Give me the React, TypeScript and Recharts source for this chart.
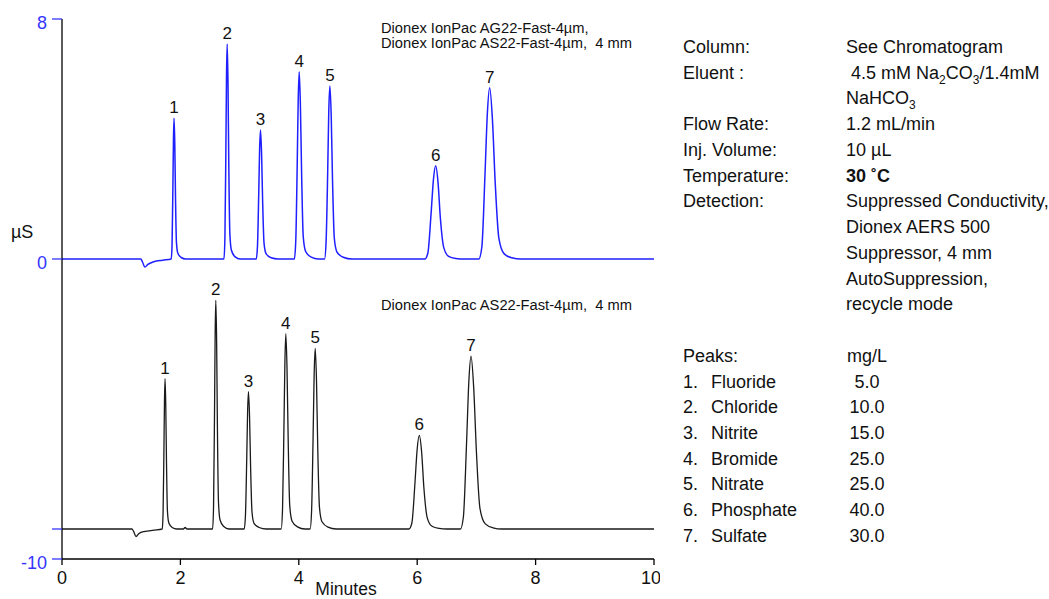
import { LineChart, Line, XAxis, YAxis, ReferenceDot } from "recharts";

const FONT = "Arial, 'Liberation Sans', Helvetica, sans-serif";
const BLUE = "#1f1fff";
const TICK_BLUE = "#3535ff";
const INK = "#111";

const blueTrace: [number, number][] = [
  [0, 0], [1.33, 0], [1.36, -0.1], [1.4, -0.27], [1.45, -0.18], [1.55, -0.09], [1.7, -0.04], [1.845, 0],
  [1.859, 0.47], [1.873, 2.35], [1.883, 4.0], [1.893, 4.69], [1.905, 3.85], [1.917, 2.1], [1.933, 0.56], [1.957, 0.19], [2.013, 0.05], [2.09, 0],
  [2.736, 0],
  [2.752, 0.72], [2.768, 3.59], [2.779, 6.1], [2.79, 7.17], [2.804, 5.88], [2.817, 3.23], [2.835, 0.86], [2.862, 0.29], [2.925, 0.07], [3.01, 0],
  [3.281, 0],
  [3.302, 0.43], [3.323, 2.15], [3.338, 3.66], [3.353, 4.3], [3.371, 3.53], [3.389, 1.94], [3.413, 0.52], [3.449, 0.17], [3.533, 0.04], [3.65, 0],
  [3.925, 0],
  [3.949, 0.62], [3.973, 3.12], [3.99, 5.3], [4.007, 6.24], [4.027, 5.12], [4.048, 2.81], [4.075, 0.75], [4.116, 0.25], [4.211, 0.06], [4.33, 0],
  [4.435, 0],
  [4.461, 0.58], [4.488, 2.89], [4.506, 4.9], [4.525, 5.77], [4.548, 4.73], [4.57, 2.6], [4.6, 0.69], [4.645, 0.23], [4.75, 0.06], [4.9, 0],
  [6.13, 0],
  [6.18, 0.2], [6.236, 1.56], [6.274, 2.64], [6.311, 3.11], [6.352, 2.55], [6.39, 1.4], [6.45, 0.37], [6.53, 0.09], [6.65, 0.02], [6.8, 0],
  [7.04, 0],
  [7.092, 0.4], [7.146, 2.86], [7.185, 4.85], [7.224, 5.71], [7.27, 4.68], [7.317, 2.57], [7.38, 0.69], [7.47, 0.17], [7.6, 0.04], [7.75, 0],
  [10, 0],
];

// lower (column only) trace, drawn offset at -9 µS
const blackTrace: [number, number][] = [
  [0, -9], [1.18, -9], [1.21, -9.08], [1.25, -9.25], [1.3, -9.15], [1.4, -9.08], [1.55, -9.04], [1.693, -9],
  [1.707, -8.5], [1.721, -6.5], [1.731, -4.74], [1.741, -3.99], [1.753, -4.89], [1.765, -6.75], [1.781, -8.4], [1.805, -8.8], [1.861, -8.95], [1.94, -9],
  [2.05, -9], [2.08, -8.95], [2.11, -9], [2.544, -9],
  [2.56, -8.24], [2.576, -5.19], [2.587, -2.52], [2.598, -1.38], [2.612, -2.75], [2.625, -5.57], [2.643, -8.09], [2.67, -8.7], [2.733, -8.92], [2.82, -9],
  [3.078, -9],
  [3.099, -8.54], [3.12, -6.71], [3.135, -5.11], [3.15, -4.42], [3.168, -5.24], [3.186, -6.94], [3.21, -8.45], [3.246, -8.82], [3.33, -8.95], [3.45, -9],
  [3.702, -9],
  [3.725, -8.35], [3.748, -5.75], [3.765, -3.47], [3.781, -2.49], [3.801, -3.66], [3.821, -6.07], [3.847, -8.22], [3.887, -8.74], [3.979, -8.93], [4.1, -9],
  [4.191, -9],
  [4.216, -8.4], [4.241, -5.99], [4.259, -3.88], [4.277, -2.98], [4.299, -4.06], [4.32, -6.29], [4.349, -8.28], [4.392, -8.76], [4.493, -8.94], [4.63, -9],
  [5.86, -9],
  [5.91, -8.8], [5.963, -7.44], [5.999, -6.35], [6.035, -5.88], [6.075, -6.44], [6.112, -7.6], [6.17, -8.63], [6.25, -8.91], [6.37, -8.98], [6.5, -9],
  [6.73, -9],
  [6.78, -8.6], [6.834, -6.12], [6.872, -4.1], [6.909, -3.24], [6.954, -4.28], [7.0, -6.41], [7.06, -8.31], [7.15, -8.83], [7.28, -8.96], [7.43, -9],
  [10, -9],
];

const peakIds = ["1", "2", "3", "4", "5", "6", "7"];
const bluePeakTimes = [1.893, 2.79, 3.353, 4.007, 4.525, 6.311, 7.224];
const bluePeakHeights = [4.69, 7.17, 4.3, 6.24, 5.77, 3.11, 5.71];
const blackPeakTimes = [1.741, 2.598, 3.15, 3.781, 4.277, 6.035, 6.909];
const blackPeakHeights = [-3.99, -1.38, -4.42, -2.49, -2.98, -5.88, -3.24];

const xTicks = [0, 2, 4, 6, 8, 10];
const yTicks = [-10, -9, 0, 8];
const yTickLabels: Record<number, string> = { 8: "8", 0: "0", [-10]: "-10" };

const upperColumns = ["Dionex IonPac AG22-Fast-4µm,", "Dionex IonPac AS22-Fast-4µm,  4 mm"];
const lowerColumns = ["Dionex IonPac AS22-Fast-4µm,  4 mm"];

const conditionLabels = ["Column:", "Eluent :", "", "Flow Rate:", "Inj. Volume:", "Temperature:", "Detection:", "", "", "", ""];
const conditionValues = [
  "See Chromatogram",
  " 4.5 mM Na_2CO_3/1.4mM",
  "NaHCO_3",
  "1.2 mL/min",
  "10 µL",
  "30 ˚C",
  "Suppressed Conductivity,",
  "Dionex AERS 500",
  "Suppressor, 4 mm",
  "AutoSuppression,",
  "recycle mode",
];
const peakNames = ["Fluoride", "Chloride", "Nitrite", "Bromide", "Nitrate", "Phosphate", "Sulfate"];
const peakConcs = ["5.0", "10.0", "15.0", "25.0", "25.0", "40.0", "30.0"];

const toRows = (pts: [number, number][]) => pts.map(([t, v]) => ({ t, v }));

function chem(s: string) {
  const parts = s.split(/_(\d)/);
  return parts.map((p, i) =>
    i % 2 ? (
      <span key={i} style={{ fontSize: 12, position: "relative", top: 5, lineHeight: 0 }}>{p}</span>
    ) : (
      <span key={i}>{p}</span>
    )
  );
}

function YTick({ x, y, payload }: any) {
  const label = yTickLabels[payload.value];
  if (!label) return <g />;
  return (
    <text x={x} y={y + 4} dy="0.355em" textAnchor="end" fill={TICK_BLUE} fontSize={18} fontFamily={FONT}>
      {label}
    </text>
  );
}

function MinutesLabel({ viewBox }: any) {
  return (
    <text x={viewBox.x + viewBox.width / 2 - 12} y={viewBox.y + 36} textAnchor="middle" fill={INK} fontSize={17.5} fontFamily={FONT}>
      Minutes
    </text>
  );
}

function UnitLabel({ viewBox }: any) {
  return (
    <text x={viewBox.x + 11} y={viewBox.y + 219} fill={INK} fontSize={18} fontFamily={FONT}>
      µS
    </text>
  );
}

const ROW = 25.74;

export default function App() {
  return (
    <div style={{ position: "absolute", left: 0, top: 0, width: 1049, height: 599, background: "#fff", fontFamily: FONT, color: INK }}>
      <LineChart width={660} height={599} margin={{ top: 19, right: 6, left: 0, bottom: 0 }}>
        <XAxis
          dataKey="t"
          type="number"
          domain={[0, 10]}
          ticks={xTicks}
          allowDataOverflow
          height={40}
          axisLine={{ stroke: "#000", strokeWidth: 1.3 }}
          tickLine={{ stroke: "#000", strokeWidth: 1.3 }}
          tickSize={6}
          tickMargin={6}
          tick={{ fill: INK, fontSize: 18, fontFamily: FONT }}
          label={<MinutesLabel />}
        />
        <YAxis
          type="number"
          domain={[-10, 8]}
          ticks={yTicks}
          width={62}
          axisLine={{ stroke: "#000", strokeWidth: 1.3 }}
          tickLine={{ stroke: TICK_BLUE, strokeWidth: 1.3 }}
          tickSize={10}
          tickMargin={5}
          tick={<YTick />}
          label={<UnitLabel />}
        />
        <Line data={toRows(blackTrace)} dataKey="v" type="monotone" stroke="#1a1a1a" strokeWidth={1.3} dot={false} isAnimationActive={false} />
        <Line data={toRows(blueTrace)} dataKey="v" type="monotone" stroke={BLUE} strokeWidth={1.5} dot={false} isAnimationActive={false} />
        {peakIds.map((id, i) => (
          <ReferenceDot
            key={"b" + id}
            x={bluePeakTimes[i]}
            y={bluePeakHeights[i]}
            r={0}
            fill="none"
            stroke="none"
            label={{ value: id, position: "top", offset: 5, fill: INK, fontSize: 17, fontFamily: FONT }}
          />
        ))}
        {peakIds.map((id, i) => (
          <ReferenceDot
            key={"k" + id}
            x={blackPeakTimes[i]}
            y={blackPeakHeights[i]}
            r={0}
            fill="none"
            stroke="none"
            label={{ value: id, position: "top", offset: 5, fill: INK, fontSize: 17, fontFamily: FONT }}
          />
        ))}
      </LineChart>

      <div style={{ position: "absolute", left: 381, top: 21, fontSize: 14.7, lineHeight: "15px", whiteSpace: "pre" }}>
        {upperColumns.map((s) => (
          <div key={s}>{s}</div>
        ))}
      </div>
      <div style={{ position: "absolute", left: 381, top: 298, fontSize: 14.7, lineHeight: "15px", whiteSpace: "pre" }}>
        {lowerColumns.map((s) => (
          <div key={s}>{s}</div>
        ))}
      </div>

      <div style={{ position: "absolute", left: 683, top: 35, width: 366, fontSize: 18, lineHeight: ROW + "px" }}>
        {conditionValues.map((v, i) => (
          <div key={"c" + i} style={{ position: "relative", height: ROW, whiteSpace: "pre" }}>
            <span style={{ position: "absolute", left: 0 }}>{conditionLabels[i]}</span>
            <span style={{ position: "absolute", left: 163, fontWeight: v.startsWith("30") ? 700 : 400 }}>{chem(v)}</span>
          </div>
        ))}
        <div style={{ height: ROW }} />
        <div style={{ position: "relative", height: ROW }}>
          <span style={{ position: "absolute", left: 0 }}>Peaks:</span>
          <span style={{ position: "absolute", left: 163, width: 42, textAlign: "center" }}>mg/L</span>
        </div>
        {peakNames.map((n, i) => (
          <div key={n} style={{ position: "relative", height: ROW }}>
            <span style={{ position: "absolute", left: 0 }}>{i + 1}.</span>
            <span style={{ position: "absolute", left: 28 }}>{n}</span>
            <span style={{ position: "absolute", left: 163, width: 42, textAlign: "center" }}>{peakConcs[i]}</span>
          </div>
        ))}
      </div>
    </div>
  );
}
